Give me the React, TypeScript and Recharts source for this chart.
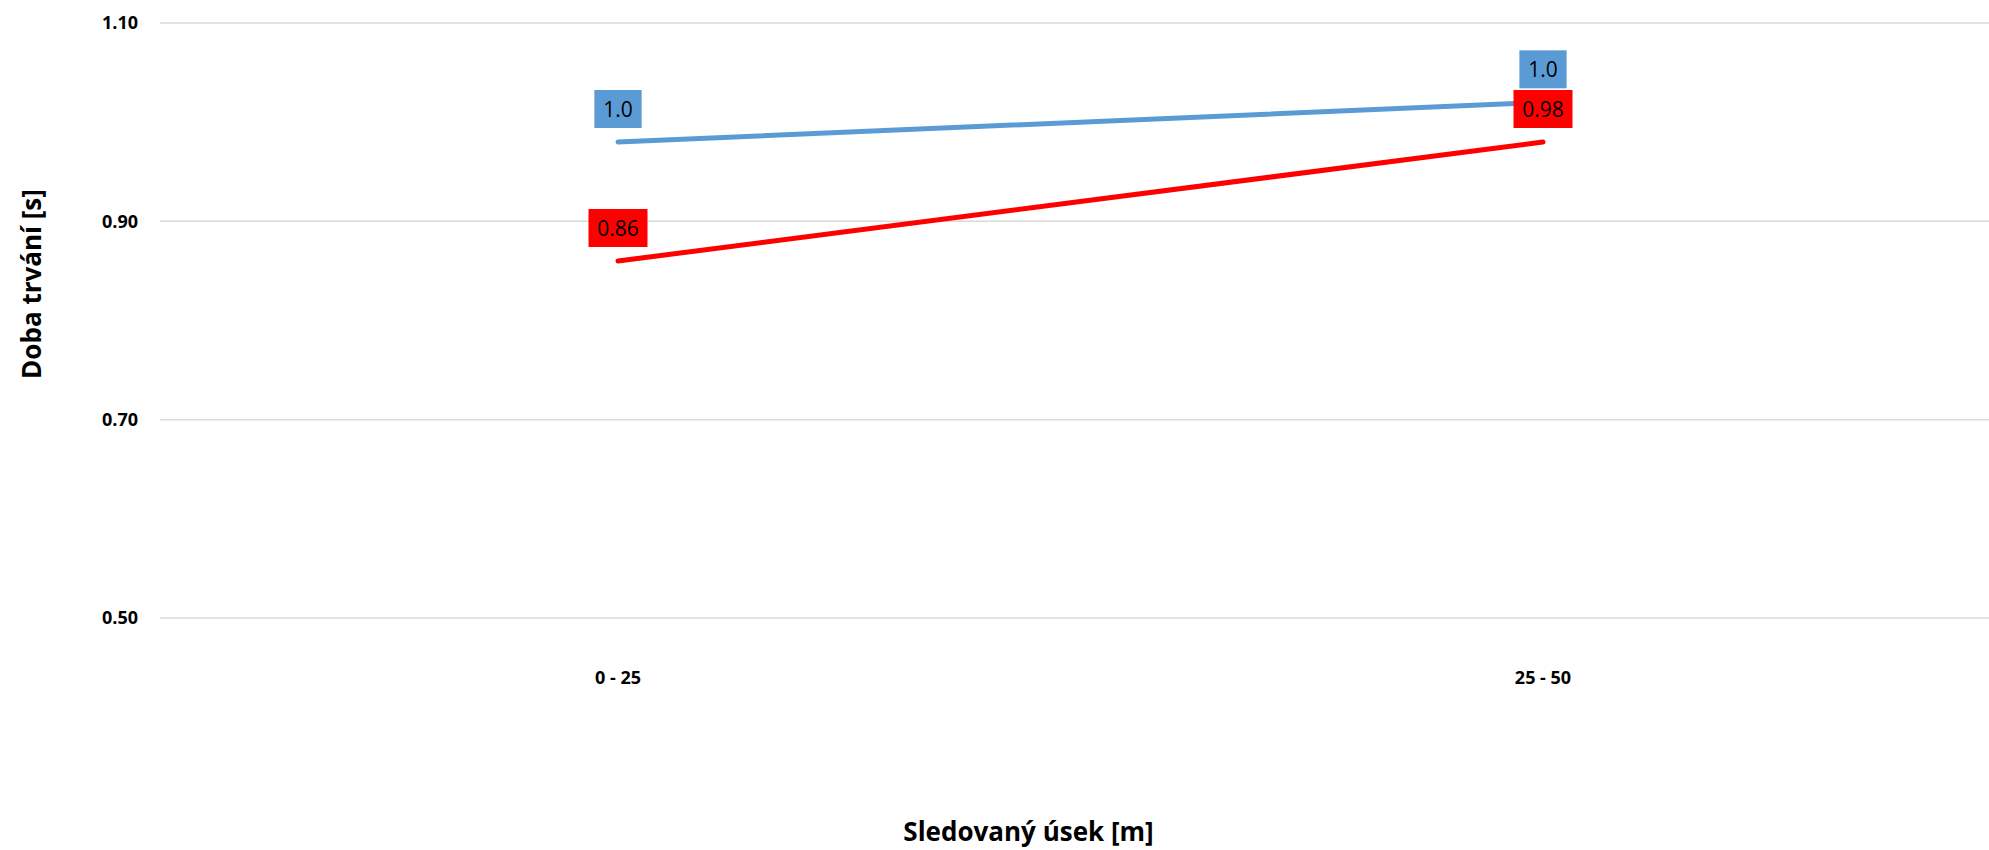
import {
  LineChart,
  Line,
  XAxis,
  YAxis,
  CartesianGrid,
  Label,
} from "recharts";

const categories = ["0 - 25", "25 - 50"];
const blueValues = [0.98, 1.02];
const redValues = [0.86, 0.98];
const yTicks = [0.5, 0.7, 0.9, 1.1];

const data = categories.map((segment, i) => ({
  segment,
  blue: blueValues[i],
  red: redValues[i],
}));

const FONT = "'Open Sans', 'Noto Sans', sans-serif";

// boxed data label above each point, like excel's filled label
const makeLabel = (fill: string, digits: number) => (props: any) => {
  const { x, y, value, index } = props;
  const text = Number(value).toFixed(digits);
  const w = 12 + text.length * 11.75;
  const h = 38;
  const top = y - 14 - h;
  return (
    <g key={`${fill}-${index}`}>
      <rect x={x - w / 2} y={top} width={w} height={h} fill={fill} />
      <text
        x={x}
        y={top + h / 2}
        textAnchor="middle"
        dominantBaseline="central"
        fontSize={21}
        fontFamily={FONT}
        fill="#000"
      >
        {text}
      </text>
    </g>
  );
};

const YTitle = () => {
  const cx = 31;
  const cy = 284;
  return (
    <text
      x={cx}
      y={cy}
      transform={`rotate(-90, ${cx}, ${cy})`}
      textAnchor="middle"
      dominantBaseline="central"
      fontSize={26}
      fontWeight="bold"
      fontFamily={FONT}
      fill="#000"
    >
      Doba trvání [s]
    </text>
  );
};

export default function App() {
  return (
    <div style={{ position: "absolute", left: 0, top: 0, background: "#fff" }}>
      <LineChart
        width={1989}
        height={850}
        data={data}
        margin={{ top: 23, right: 0, bottom: 0, left: 0 }}
      >
        <CartesianGrid vertical={false} stroke="#D9D9D9" strokeWidth={1.5} />
        <XAxis
          dataKey="segment"
          scale="point"
          padding={{ left: 458, right: 446 }}
          height={232}
          axisLine={false}
          tickLine={false}
          tickSize={0}
          tickMargin={53}
          tick={{ fontSize: 18, fontWeight: "bold", fill: "#000", fontFamily: FONT }}
        >
          <Label
            value="Sledovaný úsek [m]"
            position="insideBottom"
            offset={9}
            dx={-46}
            style={{ fontSize: 26, fontWeight: "bold", fill: "#000", fontFamily: FONT }}
          />
        </XAxis>
        <YAxis
          domain={[0.5, 1.1]}
          ticks={yTicks}
          width={160}
          axisLine={false}
          tickLine={false}
          tickSize={0}
          tickMargin={22}
          tickFormatter={(v: number) => v.toFixed(2)}
          tick={{ fontSize: 18, fontWeight: "bold", fill: "#000", fontFamily: FONT }}
        >
          <Label content={<YTitle />} />
        </YAxis>
        <Line
          dataKey="blue"
          stroke="#5B9BD5"
          strokeWidth={5}
          strokeLinecap="round"
          dot={false}
          activeDot={false}
          isAnimationActive={false}
          label={makeLabel("#5B9BD5", 1)}
        />
        <Line
          dataKey="red"
          stroke="#FF0000"
          strokeWidth={5}
          strokeLinecap="round"
          dot={false}
          activeDot={false}
          isAnimationActive={false}
          label={makeLabel("#FF0000", 2)}
        />
      </LineChart>
    </div>
  );
}
